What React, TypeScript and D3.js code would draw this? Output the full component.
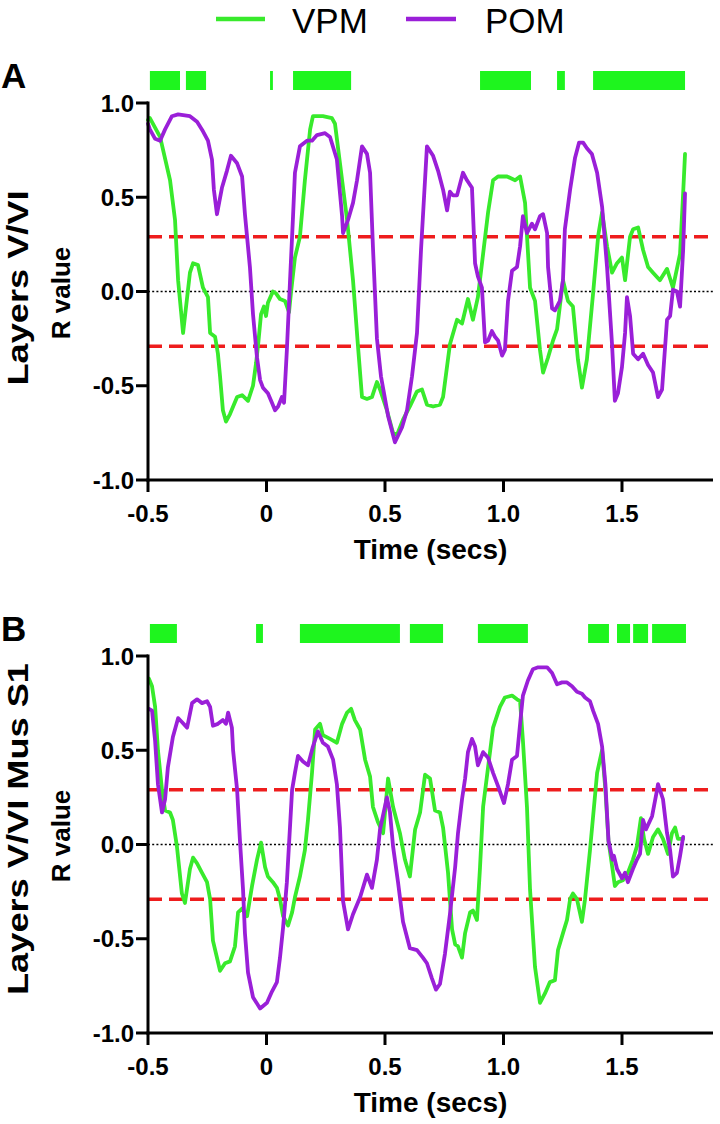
import React from 'react';
import * as d3 from 'd3';

const W = 720;
const H = 1124;

// ---- Data (time in secs, R value) ----
const vpmA: [number, number][] = [[-0.5,0.91],[-0.492,0.92],[-0.449,0.82],[-0.407,0.59],[-0.386,0.38],[-0.373,0.06],[-0.352,-0.22],[-0.323,0.10],[-0.310,0.15],[-0.289,0.14],[-0.268,0.02],[-0.247,-0.03],[-0.238,-0.22],[-0.217,-0.24],[-0.205,-0.33],[-0.196,-0.45],[-0.184,-0.63],[-0.171,-0.69],[-0.154,-0.65],[-0.124,-0.56],[-0.103,-0.55],[-0.078,-0.58],[-0.057,-0.50],[-0.044,-0.38],[-0.036,-0.29],[-0.023,-0.12],[-0.011,-0.08],[-0.002,-0.13],[0.006,-0.06],[0.027,0.00],[0.040,-0.01],[0.057,-0.04],[0.078,-0.05],[0.095,-0.11],[0.103,-0.01],[0.120,0.18],[0.141,0.29],[0.162,0.59],[0.184,0.86],[0.196,0.93],[0.238,0.93],[0.276,0.92],[0.289,0.89],[0.310,0.68],[0.340,0.38],[0.365,0.06],[0.386,-0.29],[0.403,-0.56],[0.424,-0.57],[0.445,-0.56],[0.466,-0.48],[0.479,-0.52],[0.508,-0.63],[0.534,-0.75],[0.551,-0.76],[0.576,-0.68],[0.605,-0.61],[0.635,-0.53],[0.656,-0.52],[0.677,-0.60],[0.703,-0.61],[0.732,-0.60],[0.745,-0.56],[0.774,-0.28],[0.804,-0.15],[0.825,-0.17],[0.850,-0.04],[0.871,-0.15],[0.892,-0.03],[0.914,0.20],[0.935,0.42],[0.956,0.59],[0.977,0.61],[1.015,0.61],[1.049,0.59],[1.070,0.61],[1.091,0.47],[1.112,0.02],[1.133,-0.05],[1.154,-0.31],[1.167,-0.43],[1.188,-0.35],[1.209,-0.26],[1.226,-0.20],[1.251,0.06],[1.272,-0.05],[1.293,-0.08],[1.314,-0.36],[1.331,-0.51],[1.352,-0.36],[1.378,-0.01],[1.400,0.30],[1.416,0.42],[1.437,0.24],[1.458,0.10],[1.479,0.15],[1.500,0.18],[1.513,0.06],[1.534,0.29],[1.547,0.33],[1.568,0.34],[1.589,0.22],[1.610,0.13],[1.631,0.10],[1.660,0.06],[1.690,0.12],[1.715,0.02],[1.745,0.20],[1.758,0.52],[1.766,0.73]];

const pomA: [number, number][] = [[-0.5,0.89],[-0.492,0.86],[-0.470,0.81],[-0.449,0.80],[-0.428,0.86],[-0.399,0.93],[-0.373,0.94],[-0.323,0.93],[-0.293,0.90],[-0.268,0.85],[-0.247,0.80],[-0.230,0.70],[-0.222,0.54],[-0.209,0.41],[-0.188,0.55],[-0.167,0.64],[-0.150,0.72],[-0.124,0.68],[-0.103,0.61],[-0.091,0.41],[-0.070,0.13],[-0.057,-0.12],[-0.040,-0.35],[-0.027,-0.47],[-0.015,-0.51],[0.006,-0.54],[0.023,-0.59],[0.036,-0.63],[0.049,-0.61],[0.065,-0.56],[0.074,-0.59],[0.086,-0.31],[0.099,0.05],[0.112,0.40],[0.120,0.63],[0.141,0.77],[0.171,0.80],[0.192,0.80],[0.213,0.83],[0.247,0.84],[0.268,0.82],[0.297,0.70],[0.319,0.40],[0.323,0.31],[0.344,0.38],[0.365,0.47],[0.382,0.59],[0.403,0.77],[0.424,0.73],[0.437,0.63],[0.449,0.24],[0.466,-0.25],[0.483,-0.45],[0.513,-0.66],[0.542,-0.80],[0.572,-0.72],[0.593,-0.63],[0.614,-0.45],[0.635,-0.22],[0.652,0.22],[0.677,0.77],[0.703,0.72],[0.724,0.64],[0.745,0.54],[0.762,0.43],[0.774,0.53],[0.787,0.51],[0.804,0.51],[0.829,0.63],[0.846,0.59],[0.867,0.55],[0.880,0.15],[0.892,0.08],[0.909,0.02],[0.922,-0.27],[0.935,-0.26],[0.951,-0.21],[0.964,-0.24],[0.977,-0.26],[0.994,-0.34],[1.006,-0.31],[1.019,-0.05],[1.036,0.11],[1.057,0.13],[1.070,0.24],[1.082,0.40],[1.099,0.31],[1.120,0.36],[1.133,0.33],[1.154,0.40],[1.167,0.41],[1.184,0.31],[1.188,0.13],[1.205,-0.09],[1.217,-0.10],[1.238,-0.05],[1.251,0.06],[1.259,0.33],[1.281,0.54],[1.302,0.71],[1.319,0.79],[1.336,0.79],[1.352,0.76],[1.373,0.73],[1.395,0.63],[1.416,0.45],[1.437,0.13],[1.458,-0.28],[1.470,-0.58],[1.483,-0.54],[1.500,-0.40],[1.513,-0.22],[1.521,-0.03],[1.534,-0.13],[1.547,-0.33],[1.568,-0.36],[1.589,-0.33],[1.610,-0.39],[1.631,-0.43],[1.652,-0.56],[1.669,-0.52],[1.690,-0.15],[1.703,-0.13],[1.715,0.01],[1.732,0.00],[1.745,-0.08],[1.758,0.22],[1.766,0.52]];

const vpmB: [number, number][] = [[-0.496,0.88],[-0.483,0.84],[-0.470,0.73],[-0.458,0.50],[-0.441,0.29],[-0.428,0.18],[-0.407,0.17],[-0.395,0.13],[-0.378,-0.01],[-0.357,-0.26],[-0.344,-0.31],[-0.323,-0.13],[-0.310,-0.07],[-0.293,-0.10],[-0.272,-0.15],[-0.251,-0.20],[-0.238,-0.29],[-0.226,-0.51],[-0.196,-0.67],[-0.175,-0.63],[-0.154,-0.62],[-0.133,-0.54],[-0.120,-0.36],[-0.103,-0.34],[-0.082,-0.38],[-0.061,-0.22],[-0.040,-0.08],[-0.023,0.01],[-0.006,-0.12],[0.006,-0.17],[0.027,-0.20],[0.044,-0.23],[0.057,-0.29],[0.070,-0.38],[0.091,-0.43],[0.108,-0.36],[0.120,-0.28],[0.141,-0.17],[0.162,-0.03],[0.175,0.13],[0.192,0.38],[0.205,0.61],[0.226,0.64],[0.238,0.58],[0.268,0.56],[0.297,0.54],[0.319,0.64],[0.340,0.70],[0.357,0.72],[0.373,0.66],[0.395,0.61],[0.416,0.45],[0.437,0.36],[0.449,0.20],[0.470,0.12],[0.492,0.06],[0.513,0.35],[0.534,0.20],[0.563,0.06],[0.584,-0.08],[0.605,-0.17],[0.627,0.08],[0.648,0.17],[0.669,0.37],[0.690,0.35],[0.711,0.18],[0.732,0.17],[0.745,0.09],[0.766,-0.15],[0.783,-0.45],[0.796,-0.53],[0.808,-0.54],[0.825,-0.60],[0.838,-0.47],[0.859,-0.36],[0.871,-0.35],[0.888,-0.40],[0.901,-0.12],[0.914,0.20],[0.935,0.41],[0.956,0.62],[0.985,0.73],[1.006,0.78],[1.036,0.79],[1.057,0.77],[1.070,0.76],[1.082,0.55],[1.099,0.20],[1.112,-0.24],[1.133,-0.65],[1.154,-0.84],[1.175,-0.79],[1.196,-0.73],[1.217,-0.72],[1.230,-0.56],[1.251,-0.47],[1.268,-0.40],[1.281,-0.29],[1.293,-0.26],[1.310,-0.29],[1.331,-0.41],[1.344,-0.29],[1.365,-0.03],[1.395,0.38],[1.416,0.50],[1.430,0.29],[1.443,0.02],[1.460,-0.13],[1.470,-0.22],[1.483,-0.20],[1.504,-0.19],[1.525,-0.15],[1.546,-0.08],[1.563,-0.01],[1.580,0.14],[1.593,0.03],[1.610,-0.05],[1.631,0.04],[1.652,0.08],[1.673,0.03],[1.694,-0.05],[1.711,0.06],[1.724,0.09],[1.736,0.03],[1.758,0.03]];

const pomB: [number, number][] = [[-0.496,0.72],[-0.483,0.71],[-0.470,0.55],[-0.458,0.32],[-0.441,0.17],[-0.428,0.24],[-0.416,0.41],[-0.395,0.57],[-0.373,0.67],[-0.357,0.65],[-0.335,0.62],[-0.314,0.75],[-0.293,0.77],[-0.272,0.75],[-0.251,0.76],[-0.238,0.73],[-0.226,0.63],[-0.205,0.64],[-0.184,0.66],[-0.171,0.64],[-0.162,0.70],[-0.146,0.62],[-0.141,0.50],[-0.124,0.29],[-0.112,0.02],[-0.099,-0.24],[-0.091,-0.47],[-0.078,-0.68],[-0.057,-0.81],[-0.027,-0.87],[0.002,-0.84],[0.023,-0.78],[0.044,-0.73],[0.057,-0.60],[0.070,-0.44],[0.086,-0.20],[0.108,0.29],[0.120,0.38],[0.133,0.47],[0.154,0.44],[0.175,0.42],[0.196,0.52],[0.217,0.60],[0.238,0.54],[0.259,0.52],[0.281,0.45],[0.297,0.32],[0.310,0.09],[0.323,-0.30],[0.344,-0.45],[0.365,-0.37],[0.395,-0.28],[0.424,-0.16],[0.445,-0.23],[0.466,-0.08],[0.479,0.08],[0.508,0.25],[0.521,0.17],[0.534,-0.01],[0.555,-0.20],[0.576,-0.41],[0.605,-0.55],[0.635,-0.56],[0.660,-0.60],[0.677,-0.63],[0.698,-0.71],[0.715,-0.77],[0.732,-0.74],[0.753,-0.58],[0.774,-0.37],[0.796,-0.12],[0.808,0.06],[0.825,0.24],[0.838,0.35],[0.850,0.49],[0.867,0.56],[0.880,0.52],[0.892,0.42],[0.914,0.49],[0.935,0.46],[0.956,0.38],[0.977,0.31],[1.002,0.22],[1.019,0.32],[1.036,0.45],[1.057,0.47],[1.070,0.64],[1.082,0.79],[1.103,0.87],[1.124,0.93],[1.146,0.94],[1.184,0.94],[1.205,0.91],[1.226,0.85],[1.247,0.86],[1.268,0.86],[1.289,0.84],[1.310,0.81],[1.331,0.80],[1.344,0.78],[1.365,0.76],[1.378,0.71],[1.399,0.64],[1.416,0.52],[1.430,0.32],[1.443,0.02],[1.460,-0.08],[1.466,-0.06],[1.479,-0.13],[1.500,-0.18],[1.513,-0.15],[1.525,-0.20],[1.546,-0.13],[1.563,-0.08],[1.576,-0.05],[1.589,0.13],[1.601,0.08],[1.627,0.15],[1.648,0.29],[1.652,0.32],[1.673,0.24],[1.690,0.06],[1.703,-0.03],[1.715,-0.17],[1.732,-0.15],[1.745,-0.06],[1.758,0.04]];

// significance bars (start, end) in secs
const sigA: [number, number][] = [[-0.492,-0.365],[-0.340,-0.255],[0.015,0.027],[0.112,0.357],[0.901,1.116],[1.226,1.259],[1.378,1.766]];
const sigB: [number, number][] = [[-0.492,-0.378],[-0.044,-0.015],[0.141,0.563],[0.605,0.745],[0.892,1.103],[1.357,1.445],[1.479,1.534],[1.547,1.610],[1.627,1.770]];

const threshold = 0.29;
const yTicks = [-1, -0.5, 0, 0.5, 1];
const yTickLabels = ['-1.0', '-0.5', '0.0', '0.5', '1.0'];
const xTicks = [-0.5, 0, 0.5, 1, 1.5];
const xTickLabels = ['-0.5', '0', '0.5', '1.0', '1.5'];
const seriesNames = ['VPM', 'POM'];

const GREEN = '#38ea2c';
const BAR_GREEN = '#1ef51e';
const PURPLE = '#9a1fd8';
const RED = '#ee1d1d';
const FONT = '"Liberation Sans", Arial, Helvetica, sans-serif';

const PLOT_LEFT = 148;
const PLOT_RIGHT = 713;
const X_DOMAIN: [number, number] = [-0.5, 1.884];

type PanelProps = {
  top: number;
  vpm: [number, number][];
  pom: [number, number][];
  sig: [number, number][];
  letter: string;
  title: string;
  titleLen: number;
  titleCenter: number;
  rCenter: number;
};

function Panel({ top, vpm, pom, sig, letter, title, titleLen, titleCenter, rCenter }: PanelProps) {
  const bottom = top + 377;
  const x = d3.scaleLinear().domain(X_DOMAIN).range([PLOT_LEFT, PLOT_RIGHT]);
  const y = d3.scaleLinear().domain([-1, 1]).range([bottom, top]);
  const line = d3.line<[number, number]>().x((d) => x(d[0])).y((d) => y(d[1]));
  const barTop = top - 32;
  const barH = 19;
  return (
    <g>
      <text x={1} y={top - 15} fontFamily={FONT} fontWeight="bold" fontSize={35}>{letter}</text>
      {sig.map((s, i) => (
        <rect key={i} x={x(s[0])} y={barTop} width={Math.max(2.5, x(s[1]) - x(s[0]))} height={barH} fill={BAR_GREEN} />
      ))}
      {/* reference lines */}
      <line x1={PLOT_LEFT} x2={PLOT_RIGHT + 2} y1={y(0)} y2={y(0)} stroke="#000" strokeWidth={1.3} strokeDasharray="2 2.2" />
      {[threshold, -threshold].map((v, i) => (
        <line key={i} x1={PLOT_LEFT} x2={PLOT_RIGHT - 3} y1={y(v)} y2={y(v)} stroke={RED} strokeWidth={3.5} strokeDasharray="14 7" />
      ))}
      {/* data */}
      <path d={line(vpm) || ''} fill="none" stroke={GREEN} strokeWidth={3.8} strokeLinejoin="round" strokeLinecap="round" />
      <path d={line(pom) || ''} fill="none" stroke={PURPLE} strokeWidth={3.8} strokeLinejoin="round" strokeLinecap="round" />
      {/* y axis */}
      <line x1={PLOT_LEFT} x2={PLOT_LEFT} y1={top - 1.5} y2={bottom + 1.5} stroke="#000" strokeWidth={3} />
      {yTicks.map((t, i) => (
        <g key={i}>
          <line x1={PLOT_LEFT - 12} x2={PLOT_LEFT} y1={y(t)} y2={y(t)} stroke="#000" strokeWidth={3} />
          <text x={PLOT_LEFT - 14} y={y(t)} dy="0.36em" textAnchor="end" fontFamily={FONT} fontWeight="bold" fontSize={24}>{yTickLabels[i]}</text>
        </g>
      ))}
      {/* x axis */}
      <line x1={PLOT_LEFT - 1.5} x2={PLOT_RIGHT} y1={bottom} y2={bottom} stroke="#000" strokeWidth={3} />
      {xTicks.map((t, i) => (
        <g key={i}>
          <line x1={x(t)} x2={x(t)} y1={bottom} y2={bottom + 12} stroke="#000" strokeWidth={3} />
          <text x={x(t)} y={bottom + 42} textAnchor="middle" fontFamily={FONT} fontWeight="bold" fontSize={24}>{xTickLabels[i]}</text>
        </g>
      ))}
      <text x={(PLOT_LEFT + PLOT_RIGHT) / 2} y={bottom + 79} textAnchor="middle" fontFamily={FONT} fontWeight="bold" fontSize={28}>Time (secs)</text>
      {/* y titles */}
      <text transform={`translate(28,${titleCenter}) rotate(-90)`} textAnchor="middle" fontFamily={FONT} fontWeight="bold" fontSize={30} textLength={titleLen} lengthAdjust="spacingAndGlyphs">{title}</text>
      <text transform={`translate(70,${rCenter}) rotate(-90)`} textAnchor="middle" fontFamily={FONT} fontWeight="bold" fontSize={26}>R value</text>
    </g>
  );
}

export default function App() {
  return (
    <svg width={W} height={H} viewBox={`0 0 ${W} ${H}`} style={{ position: 'absolute', left: 0, top: 0, background: '#fff' }}>
      <rect width={W} height={H} fill="#fff" />
      {/* legend */}
      <line x1={216} x2={265} y1={19} y2={19} stroke={GREEN} strokeWidth={4.5} />
      <text x={292} y={33} fontFamily={FONT} fontSize={35}>{seriesNames[0]}</text>
      <line x1={406} x2={456} y1={19} y2={19} stroke={PURPLE} strokeWidth={4.5} />
      <text x={485} y={33} fontFamily={FONT} fontSize={35}>{seriesNames[1]}</text>
      <Panel top={103} vpm={vpmA} pom={pomA} sig={sigA} letter="A" title="Layers V/VI" titleLen={195} titleCenter={288} rCenter={293} />
      <Panel top={656} vpm={vpmB} pom={pomB} sig={sigB} letter="B" title="Layers V/VI Mus S1" titleLen={332} titleCenter={829} rCenter={836} />
    </svg>
  );
}
